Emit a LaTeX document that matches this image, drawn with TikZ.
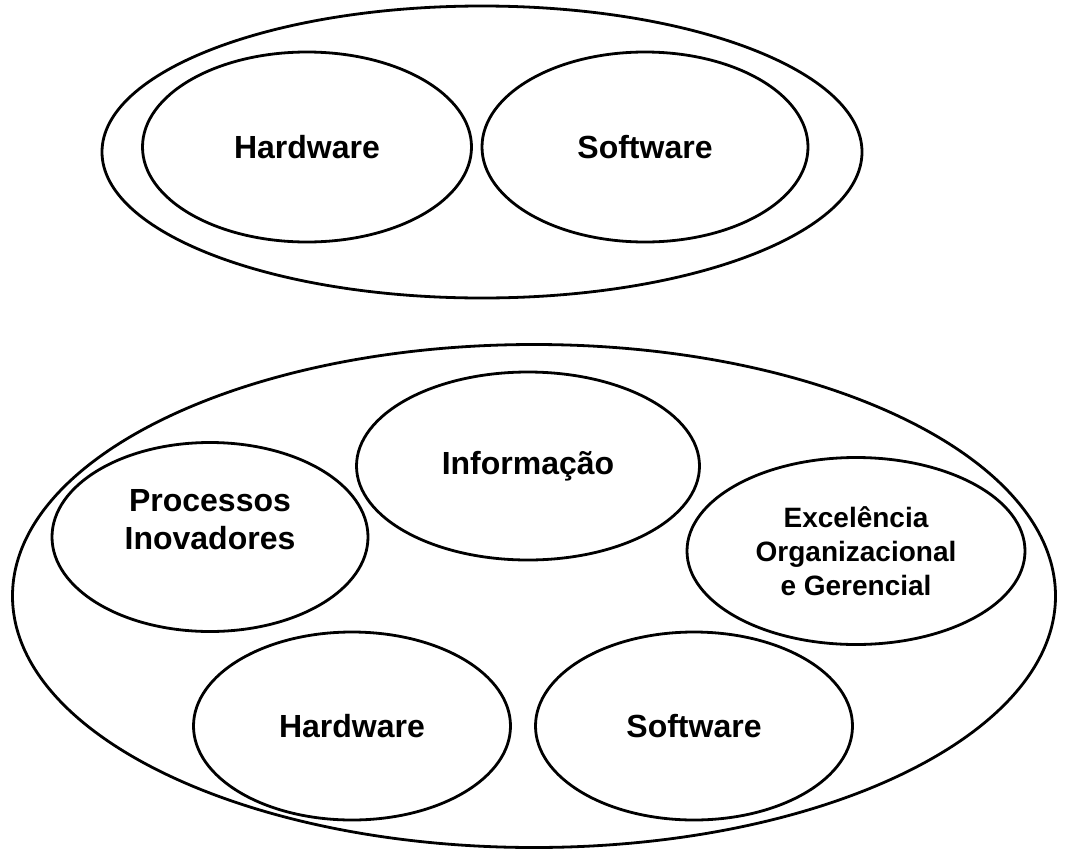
\documentclass[tikz,border=0pt]{standalone}
\usepackage{fontspec}
\setmainfont{Liberation Sans}
\usetikzlibrary{shapes.geometric}

\begin{document}
\begin{tikzpicture}[x=1pt,y=-1pt,
        bubble/.style={draw=black, line width=2.8pt, ellipse, inner sep=0pt, align=center,
            font=\bfseries\fontsize{32}{38}\selectfont}]
        \useasboundingbox (0,0) rectangle (1069,849);

        % top group
        \node[bubble, minimum width=760pt, minimum height=292pt] (grp1) at (482,152) {};
        \node[bubble, minimum width=329pt, minimum height=190pt] (hw1) at (307,147) {Hardware};
        \node[bubble, minimum width=326pt, minimum height=190pt] (sw1) at (645,147) {Software};

        % bottom group
        \node[bubble, minimum width=1043pt, minimum height=503pt] (grp2) at (534,596) {};
        \node[bubble, minimum width=343pt, minimum height=188pt] (info) at (528,466) {Informação};
        \node[bubble, minimum width=316pt, minimum height=189pt] (proc) at (210,537) {};
        \node[font=\bfseries\fontsize{32}{38}\selectfont, align=center] (proctxt)
            at ([yshift=17pt]proc.center) {Processos\\Inovadores};
        \node[bubble, minimum width=338pt, minimum height=187pt,
            font=\bfseries\fontsize{28}{34}\selectfont] (exc) at (856,551) {Excelência\\Organizacional\\e Gerencial};
        \node[bubble, minimum width=317pt, minimum height=188pt] (hw2) at (352,726) {Hardware};
        \node[bubble, minimum width=317pt, minimum height=188pt] (sw2) at (694,726) {Software};

    \end{tikzpicture}
\end{document}
